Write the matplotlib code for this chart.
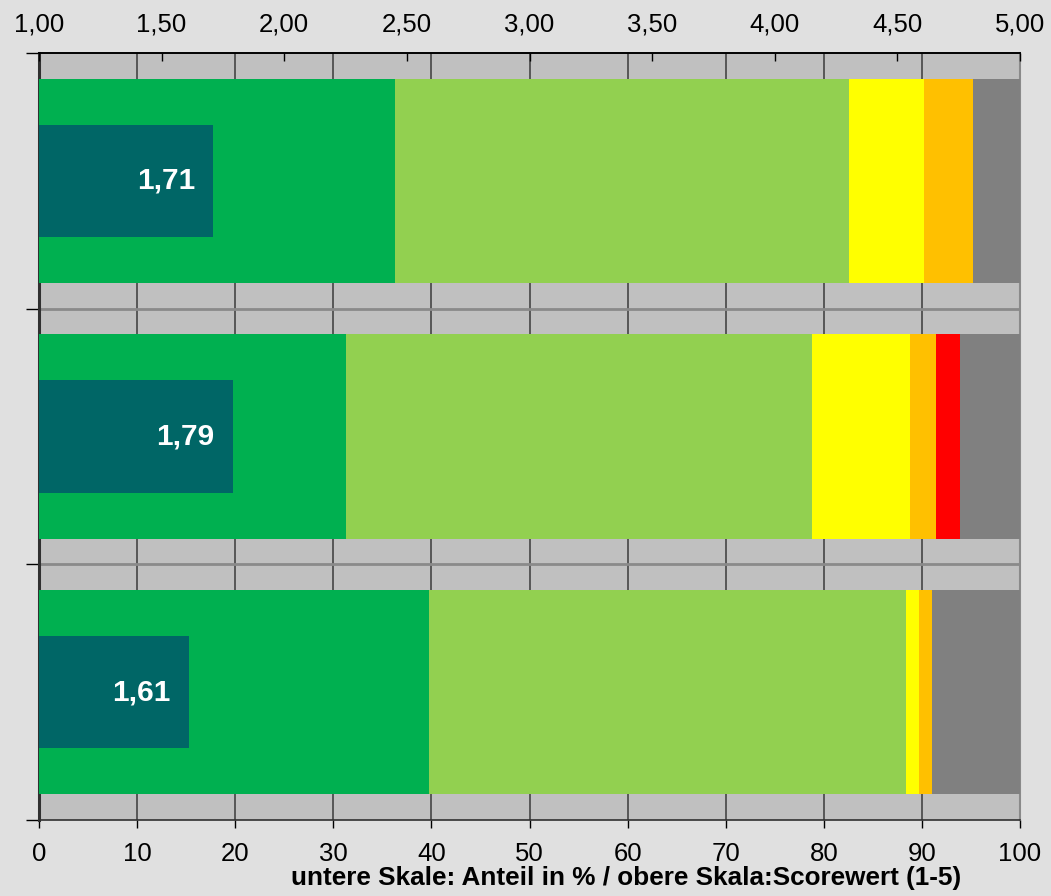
import matplotlib
matplotlib.use("Agg")
import matplotlib.pyplot as plt
import numpy as np

plt.rcParams['font.family'] = ['Liberation Sans', 'DejaVu Sans']

# Share of answers per rating (percent), one row per group, top to bottom
groups = ["Gruppe 1", "Gruppe 2", "Gruppe 3"]
sehr_gut = [36.3, 31.3, 39.8]
gut = [46.3, 47.5, 48.6]
befriedigend = [7.6, 10.0, 1.3]
ausreichend = [5.0, 2.6, 1.3]
mangelhaft = [0.0, 2.5, 0.0]
keine_angabe = [4.8, 6.1, 9.0]

# Mean score per group (scale 1-5)
scores = [1.71, 1.79, 1.61]
score_labels = ["1,71", "1,79", "1,61"]

bottom_ticks = [0, 10, 20, 30, 40, 50, 60, 70, 80, 90, 100]
top_ticks = [1.0, 1.5, 2.0, 2.5, 3.0, 3.5, 4.0, 4.5, 5.0]
top_tick_labels = ["1,00", "1,50", "2,00", "2,50", "3,00", "3,50", "4,00", "4,50", "5,00"]

segments = [sehr_gut, gut, befriedigend, ausreichend, mangelhaft, keine_angabe]
seg_colors = ["#00b050", "#92d050", "#ffff00", "#ffc000", "#ff0000", "#808080"]

fig = plt.figure(figsize=(10.51, 8.96), dpi=100, facecolor="#e0e0e0")
ax = fig.add_axes([39 / 1051, 1 - 820 / 896, 981 / 1051, 767 / 896])
ax.set_facecolor("#c0c0c0")

y = np.arange(len(groups))
left = np.zeros(len(groups))
for vals, col in zip(segments, seg_colors):
    ax.barh(y, vals, left=left, height=0.8, color=col, zorder=3, linewidth=0)
    left += np.array(vals)

# Score bars: mapped from the 1-5 scale onto the 0-100 axis
score_pos = [(s - 1.0) / 4.0 * 100.0 for s in scores]
ax.barh(y, score_pos, height=0.44, color="#006666", zorder=4, linewidth=0)
for yi, sp, lab in zip(y, score_pos, score_labels):
    ax.annotate(lab, xy=(sp, yi), xytext=(-13, 0), textcoords="offset points",
                ha="right", va="center", color="white", fontsize=21.5,
                fontweight="bold", zorder=5)

ax.set_xlim(0, 100)
ax.set_ylim(len(groups) - 0.5, -0.5)

# vertical grid and group separators
for gx in range(10, 100, 10):
    ax.axvline(gx, color="#3a3a3a", lw=1.1, zorder=1)
for sep in np.arange(0.5, len(groups) - 0.5, 1.0):
    ax.axhline(sep, color="#8a8a8a", lw=2.0, zorder=2)

ax.set_xticks(bottom_ticks)
ax.set_xticklabels([str(t) for t in bottom_ticks])
ax.tick_params(axis="x", direction="out", length=6, width=1, pad=9.5,
               labelsize=18.5, colors="black")
ax.set_yticks(np.arange(-0.5, len(groups), 1.0))
ax.set_yticklabels([])
ax.tick_params(axis="y", direction="out", length=9.5, width=1)

for side in ["left", "bottom"]:
    ax.spines[side].set_color("#303030")
ax.spines["left"].set_linewidth(2.2)
ax.spines["bottom"].set_linewidth(1.2)
ax.spines["right"].set_color("#8a8a8a")
ax.spines["right"].set_linewidth(1.5)
ax.spines["top"].set_color("black")
ax.spines["top"].set_linewidth(1.2)

top = ax.twiny()
top.set_xlim(1.0, 5.0)
top.set_xticks(top_ticks)
top.set_xticklabels(top_tick_labels)
top.tick_params(axis="x", direction="in", length=6, width=1, pad=12,
                labelsize=18.5, colors="black")
for side in ["left", "right", "bottom"]:
    top.spines[side].set_visible(False)
top.spines["top"].set_color("black")
top.spines["top"].set_linewidth(1.2)

fig.text(961 / 1051, 1 - 885 / 896, "untere Skale: Anteil in % / obere Skala:Scorewert (1-5)",
         ha="right", va="baseline", fontsize=18.8, fontweight="bold")

fig.savefig("out.png", dpi=100, facecolor=fig.get_facecolor())
